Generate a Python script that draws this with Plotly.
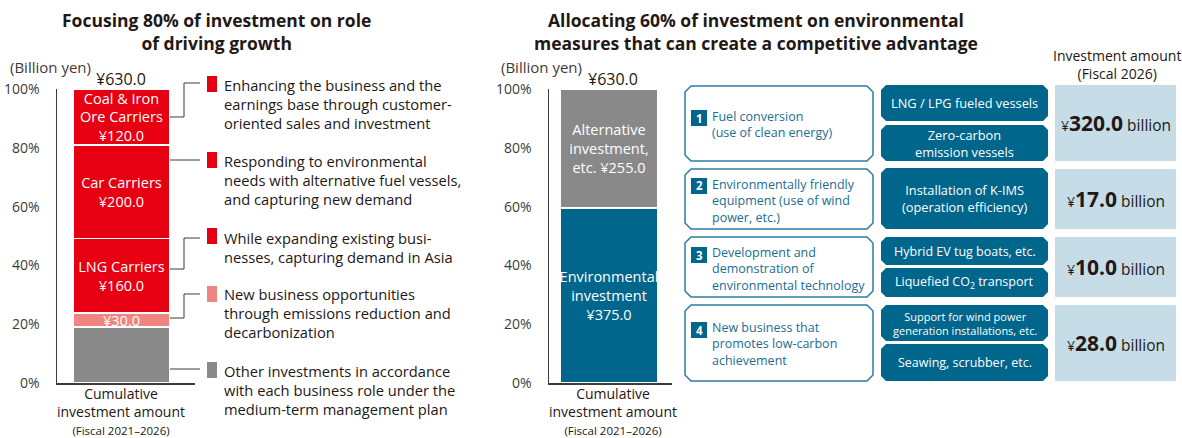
import plotly.graph_objects as go

W, H = 1182, 438
FONT = "Open Sans"
DARK = "#231815"
TEAL = "#00668c"
TEAL_TXT = "#1b6d92"
LIGHT = "#c6dde8"

# ---------------- data ----------------
left_cats = ["Other investments", "New business", "LNG Carriers", "Car Carriers", "Coal & Iron Ore Carriers"]
left_values = [120.0, 30.0, 160.0, 200.0, 120.0]
left_labels = ["", "¥30.0", "LNG Carriers<br>¥160.0", "Car Carriers<br>¥200.0", "Coal & Iron<br>Ore Carriers<br>¥120.0"]
left_colors = ["#898989", "#ef8580", "#e60012", "#e60012", "#e60012"]

right_cats = ["Environmental investment", "Alternative investment"]
right_values = [375.0, 255.0]
right_labels = ["Environmental<br>investment<br>¥375.0", "Alternative<br>investment,<br>etc. ¥255.0"]
right_colors = ["#00668c", "#898989"]

total_label = "¥630.0"
tick_vals = [0, 20, 40, 60, 80, 100]
tick_text = ["0%", "20%", "40%", "60%", "80%", "100%"]
category_label = "Cumulative<br>investment amount"
period_label = "(Fiscal 2021–2026)"

legend_texts = [
    "Enhancing the business and the<br>earnings base through customer-<br>oriented sales and investment",
    "Responding to environmental<br>needs with alternative fuel vessels,<br>and capturing new demand",
    "While expanding existing busi-<br>nesses, capturing demand in Asia",
    "New business opportunities<br>through emissions reduction and<br>decarbonization",
    "Other investments in accordance<br>with each business role under the<br>medium-term management plan",
]
legend_colors = ["#e60012", "#e60012", "#e60012", "#ef8580", "#898989"]

measure_nums = ["1", "2", "3", "4"]
measure_texts = [
    "Fuel conversion<br>(use of clean energy)",
    "Environmentally friendly<br>equipment (use of wind<br>power, etc.)",
    "Development and<br>demonstration of<br>environmental technology",
    "New business that<br>promotes low-carbon<br>achievement",
]
measure_items = [
    ["LNG / LPG fueled vessels", "Zero-carbon<br>emission vessels"],
    ["Installation of K-IMS<br>(operation efficiency)"],
    ["Hybrid EV tug boats, etc.", "Liquefied CO<sub>2</sub> transport"],
    ["Support for wind power<br>generation installations, etc.", "Seawing, scrubber, etc."],
]
measure_amounts = ["320.0", "17.0", "10.0", "28.0"]

# ---------------- helpers ----------------
def X(px):
    return px / W

def Y(py):
    return 1 - py / H

def chamfer_path(x0, y0, x1, y1, c):
    pts = [(x0 + c, y0), (x1 - c, y0), (x1, y0 + c), (x1, y1 - c), (x1 - c, y1),
           (x0 + c, y1), (x0, y1 - c), (x0, y0 + c)]
    return "M " + " L ".join(f"{X(a):.5f},{Y(b):.5f}" for a, b in pts) + " Z"

fig = go.Figure()
shapes = []
ann = []

# ---------------- bars ----------------
def add_stack(cats, values, labels, colors, xa, ya):
    tot = sum(values)
    for cat, v, lab, col in zip(cats, values, labels, colors):
        kw = {}
        if lab:
            kw = dict(text=[lab], textposition="inside", insidetextanchor="middle",
                      textangle=0, constraintext="none",
                      textfont=dict(family=FONT, size=14.5, color="white"))
        fig.add_trace(go.Bar(
            x=[0], y=[v / tot * 100], width=1, name=cat, xaxis=xa, yaxis=ya,
            marker=dict(color=col, line=dict(color="white", width=1.5)),
            cliponaxis=False, hoverinfo="skip", showlegend=False, **kw))

add_stack(left_cats, left_values, left_labels, left_colors, "x", "y")
add_stack(right_cats, right_values, right_labels, right_colors, "x2", "y2")

axis_common = dict(showline=True, linecolor="#3e3a39", linewidth=1.5, showgrid=False,
                   zeroline=False, fixedrange=True)
tickfont = dict(family=FONT, size=14, color="#3e3a39")

fig.update_layout(
    width=W, height=H, margin=dict(l=0, r=0, t=0, b=0, autoexpand=False),
    paper_bgcolor="white", plot_bgcolor="rgba(0,0,0,0)",
    barmode="stack", bargap=0,
    xaxis=dict(domain=[X(57), X(195)], range=[-0.665, 0.758], anchor="y",
               showticklabels=False, ticks="", **axis_common),
    yaxis=dict(domain=[Y(383), Y(89)], range=[0, 100], anchor="x",
               tickvals=tick_vals, ticktext=tick_text, ticks="", ticklabelstandoff=13,
               tickfont=tickfont, **axis_common),
    xaxis2=dict(domain=[X(549), X(672)], range=[-0.612, 0.643], anchor="y2",
                showticklabels=False, ticks="", **axis_common),
    yaxis2=dict(domain=[Y(383), Y(89)], range=[0, 100], anchor="x2",
                tickvals=tick_vals, ticktext=tick_text, ticks="", ticklabelstandoff=13,
                tickfont=tickfont, **axis_common),
    font=dict(family=FONT, color=DARK),
)

def text(x, y, s, size, color=DARK, xanchor="center", yanchor="middle", align="center", bold=False):
    ann.append(dict(x=X(x), y=Y(y), xref="paper", yref="paper", text=(f"<b>{s}</b>" if bold else s),
                    showarrow=False, xanchor=xanchor, yanchor=yanchor, align=align,
                    font=dict(family=FONT, size=size, color=color)))

# titles
text(216, 31, "Focusing 80% of investment on role<br>of driving growth", 17.5, bold=True)
text(756, 31, "Allocating 60% of investment on environmental<br>measures that can create a competitive advantage", 17.5, bold=True)

# unit / totals
text(8, 67, "(Billion yen)", 15, color="#3e3a39", xanchor="left")
text(499, 67, "(Billion yen)", 15, color="#3e3a39", xanchor="left")
text(121, 79, total_label, 16)
text(613, 79, total_label, 16)

# category labels (one block: two lines + smaller period line)
for cx in (121, 613):
    text(cx, 411, f"{category_label}<br><span style='font-size:11.5px'>{period_label}</span>", 14)

# ---------------- legend (left) ----------------
leg_sq = [76, 152, 228, 286, 362]
leg_center = [104, 180, 247, 313, 390]
for top, cy, t, col in zip(leg_sq, leg_center, legend_texts, legend_colors):
    shapes.append(dict(type="rect", xref="paper", yref="paper", x0=X(207), x1=X(217),
                       y0=Y(top + 16), y1=Y(top), fillcolor=col, line=dict(width=0)))
    text(222, cy, t, 14.7, xanchor="left", align="left")

connectors = [
    [(170, 117), (184, 117), (184, 83), (200, 83)],
    [(170, 160), (200, 160)],
    [(170, 269), (184, 269), (184, 238), (200, 238)],
    [(170, 318), (184, 318), (184, 294), (200, 294)],
    [(170, 369), (200, 369)],
]
for pts in connectors:
    p = "M " + " L ".join(f"{X(a):.5f},{Y(b):.5f}" for a, b in pts)
    shapes.append(dict(type="path", xref="paper", yref="paper", path=p,
                       line=dict(color="#3e3a39", width=1)))

# ---------------- measures (right) ----------------
rows = [(86, 161), (169, 229), (237, 297), (305, 381)]
num_tops = [110, 178, 247, 322]
txt_centers = [125, 201, 269, 344]
item_boxes = [
    [(85, 121), (125, 161)],
    [(168, 229)],
    [(237, 265), (268, 297)],
    [(305, 341), (344, 381)],
]
item_sizes = [[12.8, 12.8], [12.8], [12.5, 12.5], [11, 12.5]]

for i in range(4):
    y0, y1 = rows[i]
    shapes.append(dict(type="path", xref="paper", yref="paper",
                       path=chamfer_path(685, y0, 873, y1, 6),
                       line=dict(color="#2b7ea3", width=1.5), fillcolor="white"))
    nt = num_tops[i]
    shapes.append(dict(type="rect", xref="paper", yref="paper", x0=X(691), x1=X(707),
                       y0=Y(nt + 16), y1=Y(nt), fillcolor=TEAL, line=dict(width=0)))
    text(699, nt + 8, f"<b>{measure_nums[i]}</b>", 11.5, color="white")
    text(710, txt_centers[i], measure_texts[i], 12.5, color=TEAL_TXT, xanchor="left", align="left")

    for (b0, b1), it, fs in zip(item_boxes[i], measure_items[i], item_sizes[i]):
        shapes.append(dict(type="path", xref="paper", yref="paper",
                           path=chamfer_path(881, b0, 1048, b1, 5),
                           line=dict(width=0), fillcolor=TEAL))
        text(964.5, (b0 + b1) / 2, it, fs, color="white")

    vy0, vy1 = (85, 161) if i == 0 else rows[i]
    shapes.append(dict(type="rect", xref="paper", yref="paper", x0=X(1055), x1=X(1176),
                       y0=Y(vy1), y1=Y(vy0), fillcolor=LIGHT, line=dict(width=0)))
    text(1115.5, (vy0 + vy1) / 2,
         f"<span style='font-size:14px'>¥</span><b>{measure_amounts[i]}</b>"
         f"<span style='font-size:15.5px'> billion</span>", 21, color=DARK)

text(1117, 64, "Investment amount<br>(Fiscal 2026)", 14)

fig.update_layout(shapes=shapes, annotations=ann)
fig.write_html(
    "out.html",
    config={"displayModeBar": False, "staticPlot": True},
    post_script="document.documentElement.style.margin='0';document.body.style.margin='0';"
                "document.body.style.padding='0';document.body.style.overflow='hidden';"
                "document.documentElement.style.overflow='hidden';"
                "document.body.style.height='438px';document.documentElement.style.height='438px';",
)
